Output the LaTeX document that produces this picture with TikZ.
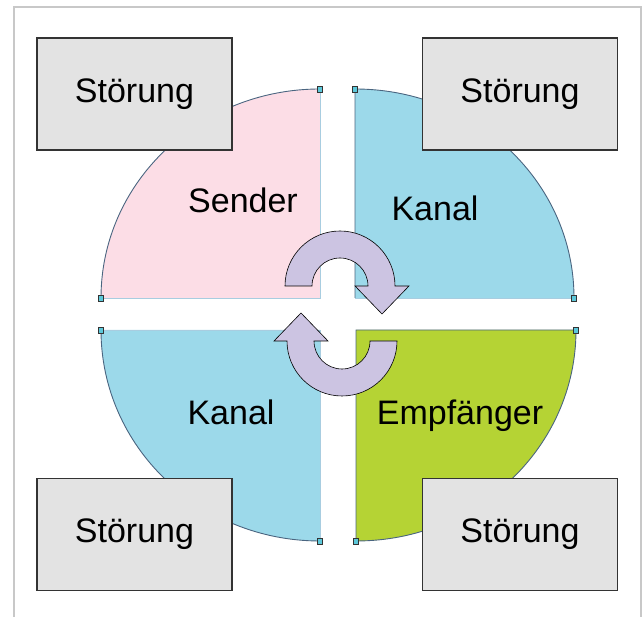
\documentclass[tikz,border=0pt]{standalone}
\usepackage{fontspec}
\setmainfont{Liberation Sans}
\definecolor{senderC}{HTML}{FCDDE6}
\definecolor{kanalC}{HTML}{9CD9EA}
\definecolor{empfC}{HTML}{B5D334}
\definecolor{boxC}{HTML}{E3E3E3}
\definecolor{boxLine}{HTML}{333333}
\definecolor{arrowC}{HTML}{CCC4E2}
\definecolor{frameC}{HTML}{C8C8C8}
\definecolor{arcC}{HTML}{4A6580}
\definecolor{edgeC}{HTML}{A8CDE0}
\definecolor{handleC}{HTML}{5CC8DA}
\begin{document}
\begin{tikzpicture}[x=1pt,y=1pt,
  arcline/.style={draw=arcC, line width=0.9pt},
  edgeline/.style={draw=edgeC, line width=0.9pt},
  handle/.style={fill=handleC, draw=black!80, line width=0.5pt},
  stoerbox/.style={draw=boxLine, line width=1.6pt, fill=boxC,
    minimum width=195pt, minimum height=112pt, inner sep=0pt,
    font=\fontsize{34}{38}\selectfont},
  quadlabel/.style={anchor=base, inner sep=0pt, font=\fontsize{34}{38}\selectfont},
  cyclearrow/.style={fill=arrowC, draw=black, line width=0.6pt, line join=miter}]
\useasboundingbox (0,0) rectangle (644,617);

% open frame
\draw[frameC, line width=1.5pt] (14,0) -- (14,610) -- (641,610) -- (641,0);

% quarter discs
\fill[senderC] (320,319) -- (101,319) arc[start angle=180, end angle=90, x radius=219, y radius=209] -- cycle;
\draw[edgeline] (101,319) -- (320,319) -- (320,528);
\draw[arcline] (101,319) arc[start angle=180, end angle=90, x radius=219, y radius=209];

\fill[kanalC] (355,319) -- (355,528) arc[start angle=90, end angle=0, x radius=219, y radius=209] -- cycle;
\draw[edgeline] (574,319) -- (355,319);
\draw[arcline] (355,319) -- (355,528) arc[start angle=90, end angle=0, x radius=219, y radius=209];

\fill[kanalC] (320,287) -- (101,287) arc[start angle=180, end angle=270, x radius=219, y radius=211] -- cycle;
\draw[edgeline] (101,287) -- (320,287) -- (320,76);
\draw[arcline] (101,287) arc[start angle=180, end angle=270, x radius=219, y radius=211];

\fill[empfC] (356,287) -- (356,76) arc[start angle=270, end angle=360, x radius=220, y radius=211] -- cycle;
\draw[arcline] (576,287) -- (356,287) -- (356,76) arc[start angle=270, end angle=360, x radius=220, y radius=211];

% end handles of the arcs
\foreach \hx/\hy in {101/319, 320/528, 355/528, 574/319, 101/287, 320/76, 356/76, 576/287}
  \draw[handle] (\hx-2.5,\hy-3) rectangle (\hx+2.5,\hy+3);

% cycle arrows
\draw[cyclearrow] (285,331) arc[start angle=180, end angle=0, radius=55]
  -- (409,331) -- (382,303) -- (355,331) -- (368,331)
  arc[start angle=0, end angle=180, radius=28] -- cycle;
\draw[cyclearrow] (397,276) arc[start angle=0, end angle=-180, radius=55]
  -- (274,276) -- (301,304) -- (328,276) -- (314,276)
  arc[start angle=180, end angle=360, radius=28] -- cycle;

% labels
\node[quadlabel] (sender) at (243,404) {Sender};
\node[quadlabel] (kanalA) at (435,396) {Kanal};
\node[quadlabel] (kanalB) at (231,192) {Kanal};
\node[quadlabel] (empf) at (460,192) {Empfänger};

% disturbance boxes
\node[stoerbox] (stTL) at (134.5,523) {Störung};
\node[stoerbox] (stTR) at (520,523) {Störung};
\node[stoerbox] (stBL) at (134.5,82.5) {Störung};
\node[stoerbox] (stBR) at (520,82.5) {Störung};
\end{tikzpicture}
\end{document}
